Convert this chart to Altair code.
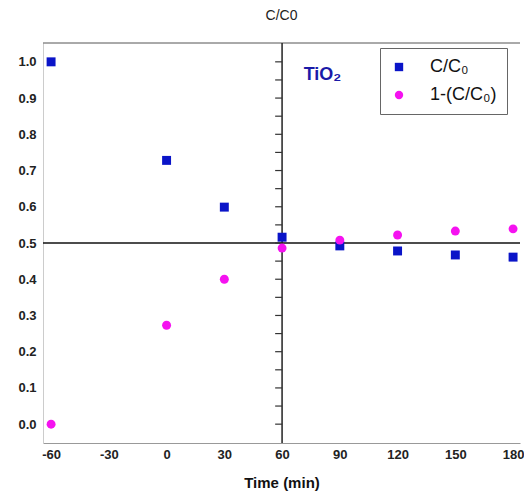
import altair as alt
import pandas as pd

time_min = [-60, 0, 30, 60, 90, 120, 150, 180]
c_over_c0 = [1.0, 0.728, 0.599, 0.516, 0.492, 0.478, 0.467, 0.461]
one_minus = [0.0, 0.273, 0.400, 0.486, 0.508, 0.522, 0.533, 0.539]
series_names = ["C/C₀", "1-(C/C₀)"]
x_ticks = [-60, -30, 0, 30, 60, 90, 120, 150, 180]
y_ticks = [0.0, 0.1, 0.2, 0.3, 0.4, 0.5, 0.6, 0.7, 0.8, 0.9, 1.0]
minor_y = [round(i * 0.05, 2) for i in range(21)]

rows = []
for t, a, b in zip(time_min, c_over_c0, one_minus):
    rows.append({"t": t, "v": a, "s": series_names[0]})
    rows.append({"t": t, "v": b, "s": series_names[1]})
df = pd.DataFrame(rows)

Y_MIN, Y_MAX = -0.052, 1.052
xs = alt.Scale(domain=[-64.2, 183.6], nice=False, zero=False)
ys = alt.Scale(domain=[Y_MIN, Y_MAX], nice=False, zero=False)

x_axis = alt.Axis(orient="bottom", values=x_ticks, title="Time (min)", labelFontWeight="bold",
                  labelFontSize=13, labelFont="Liberation Sans", labelColor="#222",
                  labelExpr="replace(datum.label, '−', '-')",
                  titleFont="Liberation Sans", titleFontSize=15, titleFontWeight="bold",
                  titleColor="#111", titlePadding=14, ticks=False, grid=False,
                  domainColor="#999", labelPadding=5, labelFlush=False)
y_axis = alt.Axis(values=y_ticks, format=".1f", title=None, labelFontWeight="bold",
                  labelFontSize=13, labelFont="Liberation Sans", labelColor="#222",
                  ticks=False, grid=False, domainColor="#ccc", labelPadding=7)

legend = alt.Legend(title=None, orient="none", legendX=337, legendY=5,
                    fillColor="white", strokeColor="#666", padding=10,
                    labelFont="Liberation Sans", labelFontSize=18,
                    labelColor="#111", rowPadding=10, labelOffset=22,
                    symbolSize=70, offset=0)

points = alt.Chart(df).mark_point(filled=True, opacity=1, size=80).encode(
    x=alt.X("t:Q", scale=xs, axis=x_axis),
    y=alt.Y("v:Q", scale=ys, axis=y_axis),
    shape=alt.Shape("s:N", scale=alt.Scale(domain=series_names, range=["square", "circle"]),
                    legend=legend),
    color=alt.Color("s:N", scale=alt.Scale(domain=series_names, range=["#0a14c8", "#f512f0"]),
                    legend=legend),
)

vline = alt.Chart(pd.DataFrame({"x": [60]})).mark_rule(color="#222", strokeWidth=1.5).encode(
    x=alt.X("x:Q", scale=xs, axis=x_axis))
hline = alt.Chart(pd.DataFrame({"y": [0.5]})).mark_rule(color="#111", strokeWidth=1.5).encode(
    y=alt.Y("y:Q", scale=ys, axis=y_axis))
topline = alt.Chart(pd.DataFrame({"y": [Y_MAX]})).mark_rule(color="#555", strokeWidth=1).encode(
    y=alt.Y("y:Q", scale=ys, axis=y_axis))
minor = alt.Chart(pd.DataFrame({"y": minor_y, "x1": [56.4] * len(minor_y), "x2": [60] * len(minor_y)})).mark_rule(
    color="#333", strokeWidth=1.2).encode(
    x=alt.X("x1:Q", scale=xs, axis=x_axis), x2="x2:Q", y=alt.Y("y:Q", scale=ys, axis=y_axis))

label = alt.Chart(pd.DataFrame({"x": [81], "y": [0.964], "txt": ["TiO₂"]})).mark_text(
    font="Liberation Sans", fontSize=18, fontWeight="bold", color="#1a1aa8").encode(
    x=alt.X("x:Q", scale=xs, axis=x_axis), y=alt.Y("y:Q", scale=ys, axis=y_axis), text="txt:N")

chart = alt.layer(topline, hline, vline, minor, points, label).properties(
    width=477, height=400,
    title=alt.TitleParams("C/C0", font="Liberation Sans", fontSize=14, fontWeight="normal",
                          color="#222", offset=19),
    autosize=alt.AutoSizeParams(type="none"),
    padding={"left": 43, "top": 43, "right": 4, "bottom": 52},
).configure_view(stroke=None)

chart.save("out.html", embed_options={"renderer": "svg", "actions": False})
